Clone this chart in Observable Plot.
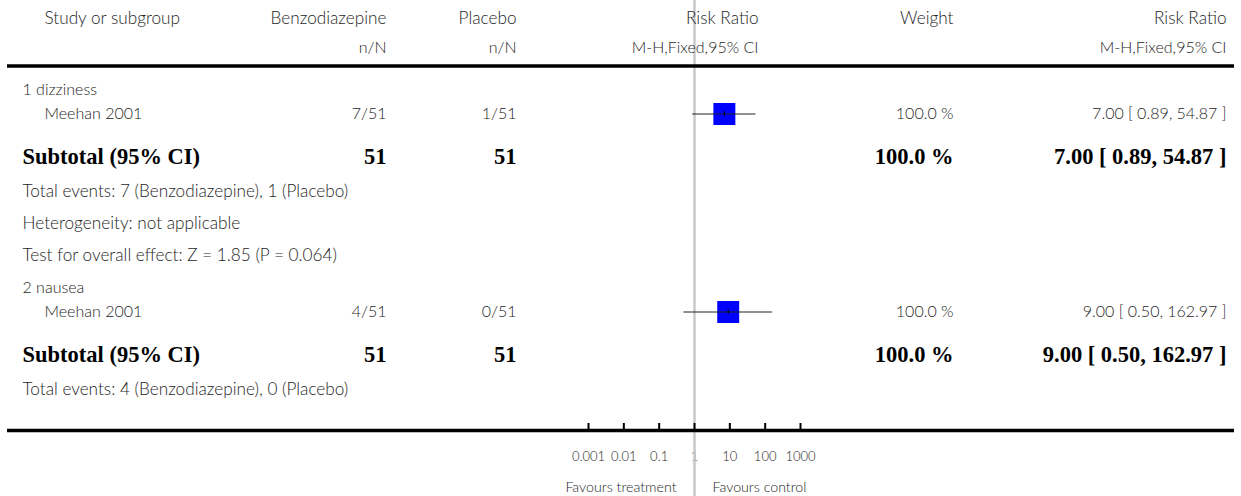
<!DOCTYPE html>
<html>
<head>
<meta charset="utf-8">
<script src="https://cdn.jsdelivr.net/npm/d3@7"></script>
<script src="https://cdn.jsdelivr.net/npm/@observablehq/plot@0.6"></script>
<style>
  html, body { margin: 0; padding: 0; background: #fff; }
  #chart svg { display: block; }
</style>
</head>
<body>
<div id="chart"></div>
<script>
// ---------------- data ----------------
const subgroups   = ["1 dizziness", "2 nausea"];
const studies     = ["Meehan 2001", "Meehan 2001"];
const expEvents   = [7, 4];
const expTotal    = [51, 51];
const ctlEvents   = [1, 0];
const ctlTotal    = [51, 51];
const riskRatio   = [7.00, 9.00];
const ciLow       = [0.89, 0.50];
const ciHigh      = [54.87, 162.97];
const weights     = [100.0, 100.0];
const subtotalRR  = [7.00, 9.00];
const subtotalLow = [0.89, 0.50];
const subtotalHigh= [54.87, 162.97];
const heterogeneity = ["Heterogeneity: not applicable", null];
const overallEffect = ["Test for overall effect: Z = 1.85 (P = 0.064)", null];
const expName = "Benzodiazepine";
const ctlName = "Placebo";
const xTicks      = [0.001, 0.01, 0.1, 1, 10, 100, 1000];
const xTickLabels = ["0.001", "0.01", "0.1", "1", "10", "100", "1000"];
const favoursLeft  = "Favours treatment";
const favoursRight = "Favours control";

// ---------------- layout ----------------
const W = 1241, H = 496;
const ML = 588, MR = 441;          // plot frame for the log axis
const AXIS_Y = 430, HEADER_LINE_Y = 65.5;
const FIRST_ROW_Y = 89;
const COL = {group: 22, study: 44, exp: 386, ctl: 516, rrHead: 758, weight: 953, rr: 1226};
const SANS = "Lato, 'Open Sans', sans-serif";
const SERIF = "'Liberation Serif', 'DejaVu Serif', serif";
const TXT = "#1e1e1e";

// build row table
const rows = [];
subgroups.forEach((g, i) => {
  rows.push({type: "group", label: g});
  rows.push({type: "study", i});
  rows.push({type: "subtotal", i});
  rows.push({type: "info", label: `Total events: ${expEvents[i]} (${expName}), ${ctlEvents[i]} (${ctlName})`});
  if (heterogeneity[i]) rows.push({type: "info", label: heterogeneity[i]});
  if (overallEffect[i]) rows.push({type: "info", label: overallEffect[i]});
});
function gap(prev, cur) {
  if (prev === "group" && cur === "study") return 24.5;
  if (prev === "study" && cur === "subtotal") return 42.5;
  if (prev === "subtotal" && cur === "info") return 35;
  return 32;
}
let yCur = FIRST_ROW_Y;
rows.forEach((r, k) => {
  if (k > 0) yCur += gap(rows[k - 1].type, r.type);
  r.y = yCur;
});

const fmtCI = (m, l, h) => `${m.toFixed(2)} [ ${l.toFixed(2)}, ${h.toFixed(2)} ]`;
const groupRows = rows.filter(r => r.type === "group");
const infoRows = rows.filter(r => r.type === "info");
const studyRows = rows.filter(r => r.type === "study").map(r => ({
  y: r.y, name: studies[r.i], exp: `${expEvents[r.i]}/${expTotal[r.i]}`, ctl: `${ctlEvents[r.i]}/${ctlTotal[r.i]}`,
  w: `${weights[r.i].toFixed(1)} %`, ci: fmtCI(riskRatio[r.i], ciLow[r.i], ciHigh[r.i]),
  rr: riskRatio[r.i], lo: ciLow[r.i], hi: ciHigh[r.i]
}));
const subRows = rows.filter(r => r.type === "subtotal").map(r => ({
  y: r.y, exp: `${expTotal[r.i]}`, ctl: `${ctlTotal[r.i]}`,
  w: `${weights[r.i].toFixed(1)} %`, ci: fmtCI(subtotalRR[r.i], subtotalLow[r.i], subtotalHigh[r.i]),
  rr: subtotalRR[r.i], lo: subtotalLow[r.i], hi: subtotalHigh[r.i]
}));
// diamonds as area outlines
const DH = 5.5;
const diamondPts = subRows.flatMap((s, k) => [
  {k, x: s.lo, y1: s.y, y2: s.y},
  {k, x: s.rr, y1: s.y - DH, y2: s.y + DH},
  {k, x: s.hi, y1: s.y, y2: s.y}
]);

const header1 = [
  {t: "Study or subgroup", c: COL.study, a: "start"},
  {t: expName, c: COL.exp, a: "end"},
  {t: ctlName, c: COL.ctl, a: "end"},
  {t: "Risk Ratio", c: COL.rrHead, a: "end"},
  {t: "Weight", c: COL.weight, a: "end"},
  {t: "Risk Ratio", c: COL.rr, a: "end"}
];
const header2 = [
  {t: "n/N", c: COL.exp},
  {t: "n/N", c: COL.ctl},
  {t: "M-H,Fixed,95% CI", c: COL.rrHead},
  {t: "M-H,Fixed,95% CI", c: COL.rr}
];
const HEAD1_Y = 18, HEAD2_Y = 47;

// helper: text at a column (pixel column relative to frame left)
const colText = (data, opts, col, anchor, font) => Plot.text(data, {
  frameAnchor: "left", dx: col - ML, textAnchor: anchor, ...font, ...opts
});
const reg = {fontFamily: SANS, fontSize: 16, fontWeight: 300, fill: TXT};
const regL = {...reg, fontSize: 17.2};
const bold = {fontFamily: SERIF, fontSize: 22.5, fontWeight: "bold", fill: "#000"};

const chart = Plot.plot({
  width: W, height: H,
  marginLeft: ML, marginRight: MR, marginTop: 0, marginBottom: H - AXIS_Y,
  style: {fontFamily: SANS, background: "#fff", overflow: "visible"},
  x: {type: "log", domain: [0.001, 1000]},
  y: {domain: [0, AXIS_Y], range: [0, AXIS_Y], axis: null},
  marks: [
    // axis tick labels
    Plot.axisX({ticks: xTicks, tickFormat: d => xTickLabels[xTicks.indexOf(d)], tickSize: 0, tickPadding: 21,
      fontSize: 13, fontWeight: 300, color: TXT, label: null, fontFamily: SANS}),
    // line of no effect
    Plot.ruleX([1], {y1: 0, y2: H, stroke: "#c8c8c8", strokeWidth: 2.5}),
    // horizontal rules
    Plot.ruleY([HEADER_LINE_Y, AXIS_Y], {stroke: "#000", strokeWidth: 3.5, insetLeft: -(ML - 7), insetRight: -(MR - 7)}),
    // axis ticks
    Plot.ruleX(xTicks, {y1: AXIS_Y - 7, y2: AXIS_Y, stroke: "#000", strokeWidth: 2}),
    // favours labels
    Plot.text([favoursLeft], {x: 1, y: AXIS_Y + 57, text: d => d, textAnchor: "end", dx: -18, fontSize: 14.2, fontWeight: 300, fill: TXT}),
    Plot.text([favoursRight], {x: 1, y: AXIS_Y + 57, text: d => d, textAnchor: "start", dx: 18, fontSize: 14.2, fontWeight: 300, fill: TXT}),
    // headers
    ...header1.map(h => colText([h], {y: HEAD1_Y, text: "t"}, h.c, h.a, regL)),
    ...header2.map(h => colText([h], {y: HEAD2_Y, text: "t"}, h.c, "end", reg)),
    // group / info labels
    colText(groupRows, {y: "y", text: "label"}, COL.group, "start", reg),
    colText(infoRows, {y: "y", text: "label"}, COL.group, "start", regL),
    // study rows
    colText(studyRows, {y: "y", text: "name"}, COL.study, "start", reg),
    colText(studyRows, {y: "y", text: "exp"}, COL.exp, "end", reg),
    colText(studyRows, {y: "y", text: "ctl"}, COL.ctl, "end", reg),
    colText(studyRows, {y: "y", text: "w"}, COL.weight, "end", reg),
    colText(studyRows, {y: "y", text: "ci"}, COL.rr, "end", reg),
    // subtotal rows
    colText(subRows, {y: "y", text: () => "Subtotal (95% CI)"}, COL.group, "start", bold),
    colText(subRows, {y: "y", text: "exp"}, COL.exp, "end", bold),
    colText(subRows, {y: "y", text: "ctl"}, COL.ctl, "end", bold),
    colText(subRows, {y: "y", text: "w"}, COL.weight, "end", bold),
    colText(subRows, {y: "y", text: "ci"}, COL.rr, "end", bold),
    // study squares + CI lines
    Plot.dot(studyRows, {x: "rr", y: "y", symbol: "square", r: 12.4, fill: "#0000ff", stroke: null}),
    Plot.ruleY(studyRows, {y: "y", x1: "lo", x2: "hi", stroke: "#222", strokeWidth: 1}),
    Plot.ruleX(studyRows, {x: "rr", y1: d => d.y - 2.5, y2: d => d.y + 2.5, stroke: "#000", strokeWidth: 1}),
    // diamonds
    Plot.areaX(diamondPts, {x: "x", y1: "y1", y2: "y2", z: "k", fill: "#000", curve: "linear"})
  ]
});
document.getElementById("chart").appendChild(chart);
</script>
</body>
</html>
